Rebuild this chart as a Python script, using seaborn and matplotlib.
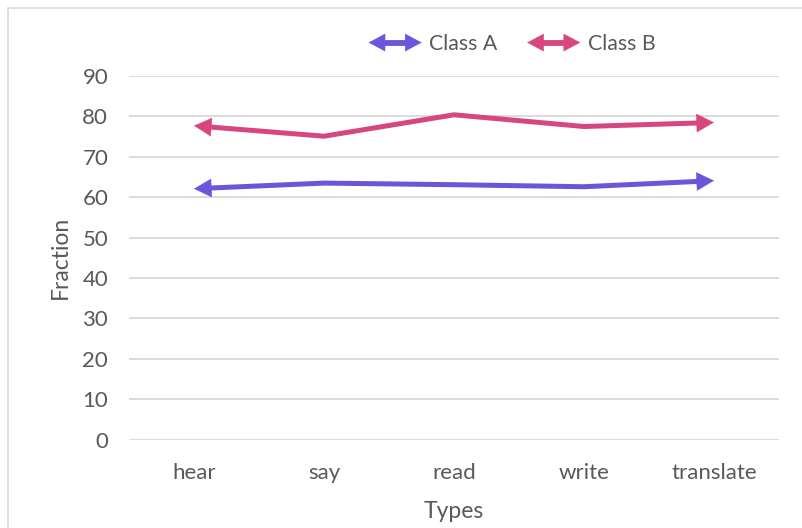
import numpy as np
import pandas as pd
import matplotlib
matplotlib.use("Agg")
import matplotlib.pyplot as plt
import seaborn as sns
from matplotlib.legend_handler import HandlerBase
from matplotlib.patches import FancyArrowPatch, Rectangle
from matplotlib.lines import Line2D

# ──────────────────────────────────────────────
# Data
# ──────────────────────────────────────────────
types = ["hear", "say", "read", "write", "translate"]
class_a = [62.1, 63.5, 63.1, 62.6, 64.1]
class_b = [77.7, 75.1, 80.4, 77.5, 78.5]
series_names = ["Class A", "Class B"]
colors = {"Class A": "#6A56D9", "Class B": "#D7467F"}
y_ticks = [0, 10, 20, 30, 40, 50, 60, 70, 80, 90]

TEXT = "#595959"
GRID = "#D9D9D9"
FS = 16
LW = 3.6
HEAD = "-|>,head_length=0.6,head_width=0.32"
MS = 20          # head length = 0.6 * 20 pt = 12 pt


class HandlerDoubleArrow(HandlerBase):
    """Legend icon: a thick line with a filled arrow head at each end."""

    def create_artists(self, legend, orig_handle, xdescent, ydescent,
                       width, height, fontsize, trans):
        y = height / 2 - ydescent
        x0, x1 = -xdescent, -xdescent + width
        c = orig_handle.get_color()
        shaft = Line2D([x0 + 9, x1 - 9], [y, y], color=c,
                       lw=orig_handle.get_linewidth() + 0.6,
                       solid_capstyle="butt", transform=trans)
        arts = [shaft]
        for a, b in [(x0 + 14, x0), (x1 - 14, x1)]:
            arts.append(FancyArrowPatch((a, y), (b, y), arrowstyle=HEAD,
                                        mutation_scale=MS * 0.95, color=c,
                                        lw=0.4, shrinkA=0, shrinkB=0,
                                        transform=trans))
        return arts


df = pd.DataFrame({
    "Types": types * 2,
    "Fraction": class_a + class_b,
    "series": [series_names[0]] * len(types) + [series_names[1]] * len(types),
})

sns.set_theme(style="white")
plt.rcParams["font.family"] = ["Lato", "DejaVu Sans"]

fig = plt.figure(figsize=(8.03, 5.28), dpi=100)
ax = fig.add_axes([129 / 803, 88.3 / 528, 650 / 803, 363.7 / 528])

# chart border (partly cut by the image edge)
fig.patches.append(Rectangle((8 / 803, -0.1), 1.2, (520 / 528) + 0.1,
                             transform=fig.transFigure, fill=False,
                             edgecolor=GRID, lw=1.2))

sns.lineplot(data=df, x="Types", y="Fraction", hue="series",
             palette=colors, lw=LW, sort=False, legend=False, ax=ax,
             solid_capstyle="butt")

pos = np.arange(len(types))
ax.set_xlim(-0.5, len(types) - 0.5)
ax.set_ylim(0, 90)

# stop the lines just inside the arrow heads so they do not poke past the tips
head_px = 0.6 * MS * fig.dpi / 72
px_per_cat = ax.get_position().width * fig.bbox.width / len(types)
d = 0.75 * head_px / px_per_cat
for line in ax.get_lines():
    clip = Rectangle((pos[0] + d, -100), pos[-1] - pos[0] - 2 * d, 300,
                     transform=ax.transData)
    line.set_clip_path(clip)

# arrow heads at both ends of each series
for name, vals in zip(series_names, [class_a, class_b]):
    for i0, i1 in [(0, 1), (len(types) - 1, len(types) - 2)]:
        ax.annotate("", xy=(pos[i0], vals[i0]), xytext=(pos[i1], vals[i1]),
                    arrowprops=dict(arrowstyle=HEAD, mutation_scale=MS,
                                    color=colors[name], lw=0.4,
                                    shrinkA=0, shrinkB=0))

ax.set_yticks(y_ticks)
ax.set_xticks(pos)
ax.set_xticklabels(types)
ax.grid(axis="y", color=GRID, lw=1.3)
ax.grid(axis="x", visible=False)
for s in ax.spines.values():
    s.set_visible(False)
ax.tick_params(axis="both", length=0, labelsize=FS, labelcolor=TEXT)
ax.tick_params(axis="y", pad=15)
ax.tick_params(axis="x", pad=17)
ax.set_xlabel("Types", fontsize=FS + 0.5, color=TEXT, labelpad=13)
ax.set_ylabel("Fraction", fontsize=FS + 0.5, color=TEXT, labelpad=8)

handles = [Line2D([], [], color=colors[n], lw=LW) for n in series_names]
leg = ax.legend(handles, series_names, loc="center",
                bbox_to_anchor=(512 / 803, 484 / 528),
                bbox_transform=fig.transFigure, ncol=2, frameon=False,
                fontsize=FS - 0.7, handlelength=2.5, handletextpad=0.35,
                columnspacing=1.4,
                handler_map={Line2D: HandlerDoubleArrow()})
for t in leg.get_texts():
    t.set_color(TEXT)

fig.savefig("out.png", dpi=100)
